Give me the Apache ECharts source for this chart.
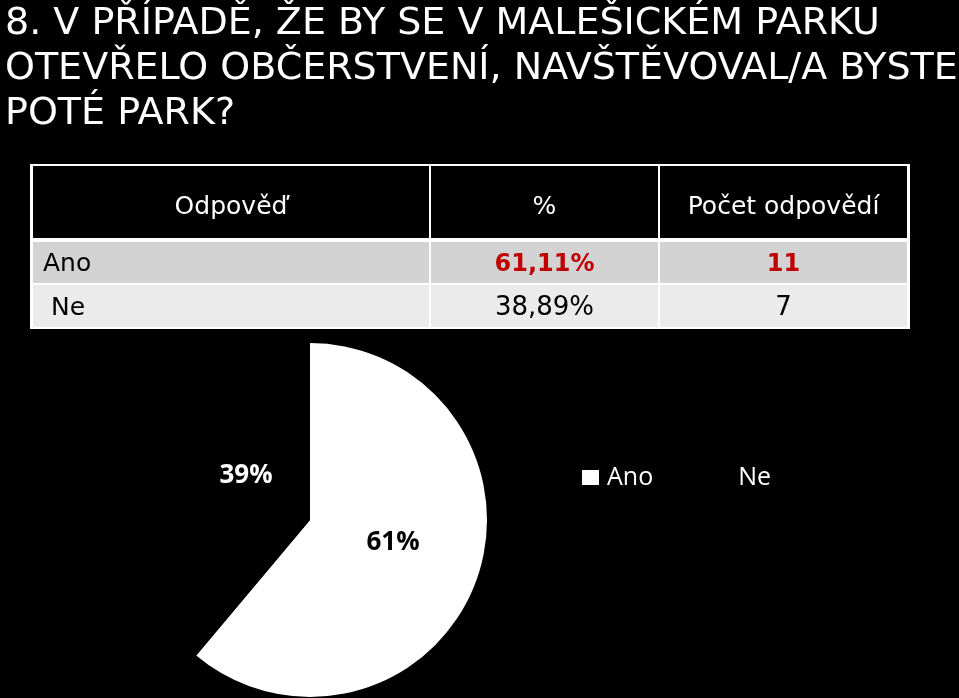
<!DOCTYPE html>
<html>
<head>
<meta charset="utf-8">
<script src="https://cdn.jsdelivr.net/npm/echarts@6/dist/echarts.min.js"></script>
<style>
html,body{margin:0;padding:0;background:#000;}
#chart{width:959px;height:698px;}
</style>
</head>
<body>
<div id="chart"></div>
<script>
const titleText = '8. V PŘÍPADĚ, ŽE BY SE V MALEŠICKÉM PARKU\nOTEVŘELO OBČERSTVENÍ, NAVŠTĚVOVAL/A BYSTE\nPOTÉ PARK?';
const headers = ['Odpověď', '%', 'Počet odpovědí'];
const answers = ['Ano', 'Ne'];
const percentTexts = ['61,11%', '38,89%'];
const counts = [11, 7];
const sliceColors = ['#ffffff', '#000000'];

const tableFont = '"DejaVu Sans", sans-serif';
const colX = [32, 430, 659, 908];
const headerBox = [166, 238];
const rowBoxes = [[242, 283], [285, 327]];
const rowFills = ['#d3d3d3', '#ebebeb'];

const graphics = [];
graphics.push({type:'rect', shape:{x:30, y:164, width:880, height:165}, style:{fill:'#ffffff'}});
for (let c = 0; c < 3; c++) {
  const x0 = colX[c] + 1, x1 = colX[c+1] - 1;
  graphics.push({type:'rect', shape:{x:x0, y:headerBox[0], width:x1-x0, height:headerBox[1]-headerBox[0]}, style:{fill:'#000000'}});
  graphics.push({type:'text', x:(x0+x1)/2, y:207,
    style:{text:headers[c], fill:'#ffffff', font:'25px ' + tableFont, align:'center', verticalAlign:'middle'}});
  for (let r = 0; r < answers.length; r++) {
    const [y0, y1] = rowBoxes[r];
    graphics.push({type:'rect', shape:{x:x0, y:y0, width:x1-x0, height:y1-y0}, style:{fill:rowFills[r]}});
  }
}
for (let r = 0; r < answers.length; r++) {
  const [y0, y1] = rowBoxes[r];
  const ym = (y0 + y1) / 2 + 2;
  const isMax = counts[r] === Math.max(...counts);
  const col = isMax ? '#c00000' : '#000000';
  const font = isMax ? 'bold 24px ' : '26px ';
  graphics.push({type:'text', x: r === 0 ? 43 : 51, y: ym,
    style:{text:answers[r], fill:'#000', font:'25px ' + tableFont, align:'left', verticalAlign:'middle'}});
  graphics.push({type:'text', x:(colX[1]+colX[2])/2, y: ym,
    style:{text:percentTexts[r], fill:col, font:font + tableFont, align:'center', verticalAlign:'middle'}});
  graphics.push({type:'text', x:(colX[2]+colX[3])/2, y: ym,
    style:{text:String(counts[r]), fill:col, font:font + tableFont, align:'center', verticalAlign:'middle'}});
}

const labelShift = [[-3, -9], [22, -13]];

const chart = echarts.init(document.getElementById('chart'));
chart.setOption({
  backgroundColor: '#000000',
  animation: false,
  title: {
    text: titleText,
    left: 0, top: -3,
    textStyle: {color:'#ffffff', fontSize:38, fontWeight:'normal', fontFamily: tableFont, lineHeight:45}
  },
  legend: {
    data: answers,
    left: 577, top: 460,
    itemWidth: 17, itemHeight: 15, itemGap: 60,
    icon: 'rect',
    textStyle: {color:'#ffffff', fontSize:25, fontFamily:'"Open Sans", sans-serif', padding:[0,0,0,3]}
  },
  graphic: graphics,
  series: [{
    type: 'pie',
    center: [310, 520],
    radius: 177,
    startAngle: 90,
    clockwise: true,
    silent: true,
    label: {
      show: true,
      position: 'inside',
      fontSize: 26,
      fontWeight: 'bold',
      fontFamily: '"Open Sans", sans-serif',
      formatter: p => Math.round(p.percent) + '%'
    },
    labelLayout: p => ({dx: labelShift[p.dataIndex][0], dy: labelShift[p.dataIndex][1]}),
    labelLine: {show:false},
    data: answers.map((a, i) => ({
      name: a, value: counts[i],
      itemStyle: {color: sliceColors[i]},
      label: {color: i === 0 ? '#000000' : '#ffffff'}
    }))
  }]
});
</script>
</body>
</html>
